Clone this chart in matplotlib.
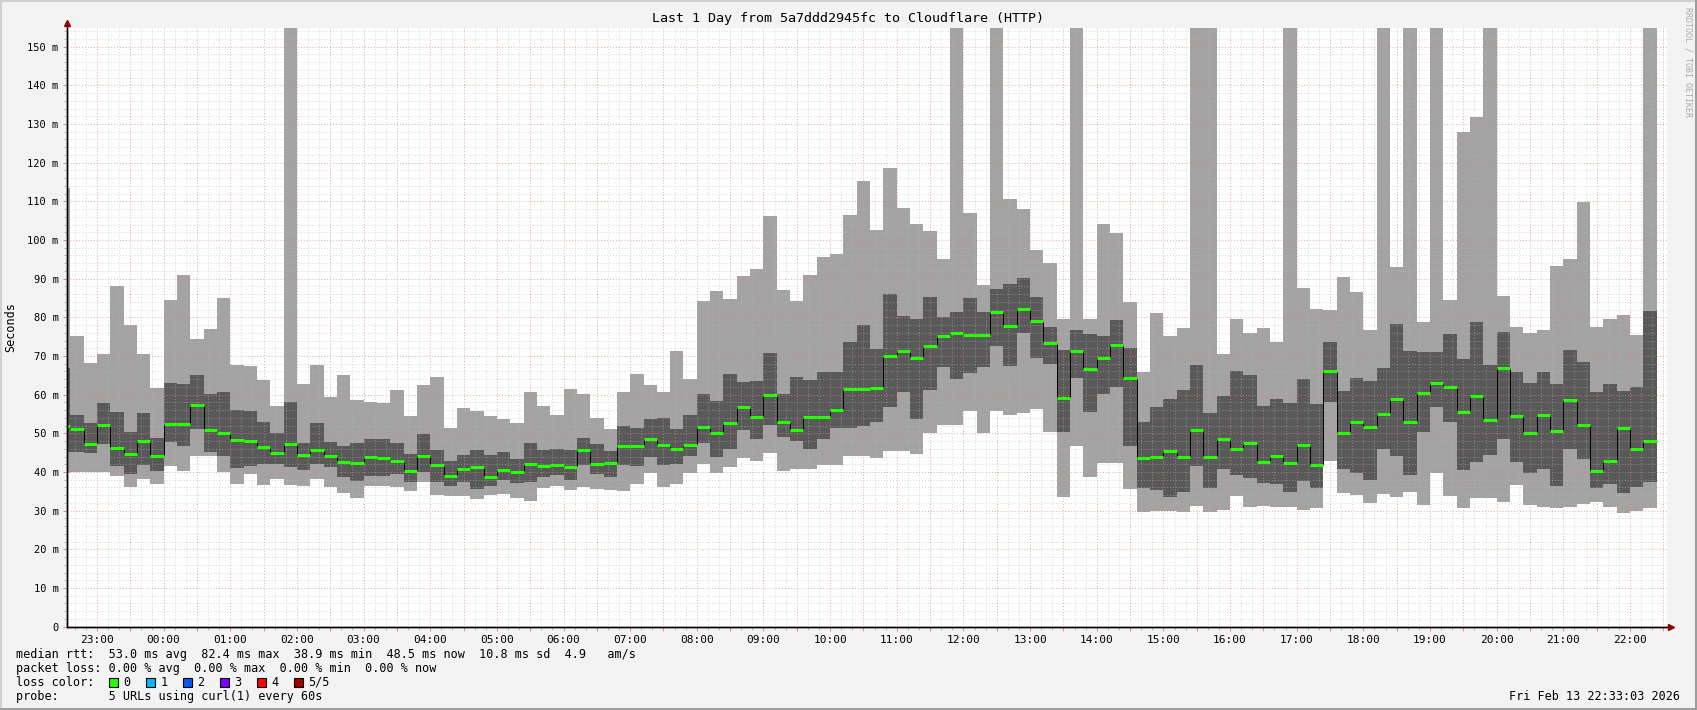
import numpy as np
import pandas as pd
import matplotlib
matplotlib.use("Agg")
import matplotlib.pyplot as plt
import matplotlib.dates as mdates
from matplotlib.patches import Rectangle
from matplotlib.ticker import MultipleLocator, FuncFormatter

# ====== data (ms), one value per 12 min bin, first bin starts 22:24 ======
first_bin = "2026-02-12 22:24"
bin_minutes = 12
t_start = "2026-02-12 22:33:03"
t_end = "2026-02-13 22:33:03"

rtt_max = [113.4, 75.1, 68.1, 70.6, 88.2, 77.9, 70.4, 61.7, 84.5, 91.0,
           74.5, 77.1, 85.1, 67.8, 67.3, 63.9, 57.0, 170, 62.7, 67.6,
           59.3, 65.2, 58.5, 58.1, 57.9, 61.1, 54.4, 62.4, 64.5, 51.4,
           56.6, 55.9, 54.5, 53.8, 52.7, 60.6, 57.1, 54.7, 61.5, 60.3,
           54.0, 51.1, 60.7, 65.3, 62.5, 60.7, 71.3, 64.0, 84.2, 86.8,
           84.7, 90.6, 92.5, 106.2, 87.1, 84.2, 90.9, 95.6, 96.4, 106.5,
           115.3, 102.6, 118.5, 108.3, 104.1, 102.3, 95.1, 170, 107.0, 88.4,
           170, 110.6, 108.0, 97.4, 94.0, 79.7, 170, 79.5, 104.1, 101.9,
           84.0, 65.9, 81.2, 75.2, 77.3, 170, 170, 70.5, 79.7, 76.0,
           77.2, 73.7, 170, 87.7, 82.2, 81.9, 90.4, 86.6, 76.7, 170,
           93.1, 170, 78.9, 170, 84.5, 127.8, 131.8, 170, 85.6, 77.6,
           76.0, 76.6, 93.4, 95.1, 109.8, 77.6, 79.7, 80.6, 75.4, 170]
rtt_p4 = [66.8, 54.7, 52.6, 57.8, 55.5, 50.4, 55.2, 48.8, 62.9, 62.7,
          65.2, 60.2, 60.6, 56.1, 55.8, 52.9, 50.2, 58.0, 47.5, 52.6,
          47.8, 46.6, 47.5, 48.5, 48.5, 47.5, 44.6, 49.8, 45.7, 42.9,
          44.4, 45.7, 44.4, 45.1, 43.4, 47.5, 45.7, 45.9, 45.7, 48.9,
          47.2, 45.4, 51.9, 51.5, 53.8, 54.0, 51.1, 54.7, 60.3, 58.4,
          65.3, 63.4, 63.5, 70.9, 60.2, 64.6, 63.8, 65.8, 65.8, 73.5,
          77.9, 71.7, 86.0, 80.4, 79.7, 85.3, 80.0, 81.5, 84.9, 81.5,
          87.2, 88.6, 90.3, 85.2, 77.4, 71.6, 76.7, 75.7, 75.2, 79.3,
          72.0, 52.9, 56.9, 59.0, 61.2, 67.7, 55.3, 59.7, 66.0, 65.0,
          57.2, 58.8, 57.9, 64.1, 57.6, 73.7, 61.0, 64.2, 63.5, 66.8,
          78.3, 71.3, 71.1, 71.1, 75.7, 69.3, 78.9, 67.7, 76.1, 65.9,
          63.1, 65.9, 62.8, 71.6, 68.4, 60.7, 62.8, 61.0, 61.9, 81.6]
rtt_median = [51.8, 51.2, 47.2, 52.2, 46.3, 44.7, 47.9, 44.2, 52.4, 52.4,
              57.3, 50.9, 50.1, 48.3, 48.1, 46.4, 44.9, 47.3, 44.5, 45.8,
              44.2, 42.7, 42.3, 43.9, 43.7, 42.9, 40.3, 44.2, 41.9, 39.1,
              40.7, 41.2, 38.6, 40.6, 40.1, 42.2, 41.6, 41.9, 41.2, 45.8,
              42.1, 42.4, 46.6, 46.6, 48.6, 47.1, 46.0, 47.1, 51.7, 50.1,
              52.7, 56.9, 54.1, 59.9, 52.9, 50.8, 54.3, 54.3, 56.0, 61.5,
              61.5, 61.6, 70.0, 71.4, 69.5, 72.6, 75.2, 76.0, 75.4, 75.4,
              81.4, 77.8, 82.2, 79.1, 73.4, 59.2, 71.4, 66.7, 69.6, 72.8,
              64.4, 43.7, 44.0, 45.5, 44.0, 50.9, 44.0, 48.5, 46.0, 47.6,
              42.7, 44.1, 42.4, 47.0, 41.8, 66.1, 50.2, 53.0, 51.7, 55.1,
              58.9, 53.0, 60.5, 63.1, 62.1, 55.6, 59.7, 53.4, 67.0, 54.5,
              50.2, 54.8, 50.7, 58.6, 52.2, 40.3, 42.9, 51.4, 46.0, 48.1]
rtt_p2 = [45.1, 45.3, 45.0, 47.2, 41.6, 39.4, 41.8, 40.3, 47.8, 46.8,
          51.1, 45.2, 44.2, 41.1, 41.6, 42.1, 42.1, 41.4, 40.6, 42.1,
          41.4, 38.8, 37.8, 39.1, 39.1, 39.4, 37.5, 39.9, 37.5, 36.5,
          37.3, 35.5, 36.5, 37.9, 37.2, 37.4, 38.8, 39.3, 37.9, 41.8,
          39.5, 38.8, 41.8, 41.6, 43.8, 41.8, 42.1, 44.1, 47.4, 44.0,
          45.9, 50.9, 48.6, 52.2, 49.1, 48.0, 45.9, 48.6, 51.5, 51.5,
          51.9, 53.0, 56.9, 60.8, 53.8, 61.2, 67.1, 64.1, 65.6, 67.2,
          72.6, 67.4, 76.0, 69.6, 67.9, 50.4, 64.4, 55.6, 60.2, 62.1,
          46.6, 35.9, 35.3, 33.6, 34.9, 41.6, 35.9, 40.8, 39.2, 38.5,
          37.2, 36.8, 34.9, 37.7, 35.8, 58.2, 40.9, 39.8, 37.9, 46.0,
          44.1, 39.2, 50.3, 56.9, 53.0, 40.5, 42.7, 44.4, 48.5, 42.7,
          39.7, 40.8, 36.5, 45.9, 43.4, 35.9, 36.9, 34.7, 36.2, 37.5]
rtt_min = [39.7, 39.9, 40.1, 39.9, 38.9, 36.0, 38.2, 36.9, 41.5, 40.3,
           44.2, 44.2, 39.9, 36.9, 39.4, 36.7, 38.2, 36.7, 36.5, 38.2,
           36.0, 34.6, 33.4, 36.5, 36.5, 36.0, 35.2, 37.3, 34.1, 33.9,
           33.9, 32.9, 34.0, 34.2, 33.2, 32.6, 35.9, 36.4, 35.3, 36.0,
           35.7, 35.3, 35.1, 36.9, 39.8, 36.2, 36.9, 39.7, 42.2, 39.8,
           41.4, 43.5, 42.9, 45.0, 40.3, 40.9, 40.9, 41.8, 41.7, 44.1,
           44.1, 43.7, 45.5, 45.5, 44.6, 50.0, 52.1, 52.1, 55.8, 50.0,
           55.8, 54.7, 55.2, 56.2, 50.4, 33.6, 46.7, 38.8, 42.4, 42.4,
           35.5, 29.7, 29.9, 29.9, 29.7, 31.2, 29.7, 30.2, 33.8, 31.0,
           31.2, 30.9, 30.9, 30.3, 30.6, 42.9, 34.7, 34.1, 31.9, 34.3,
           33.6, 34.9, 31.6, 39.8, 33.8, 30.6, 33.2, 33.4, 32.3, 36.6,
           31.5, 31.0, 30.6, 30.9, 31.7, 32.3, 31.0, 29.3, 30.0, 30.6]

title = "Last 1 Day from 5a7ddd2945fc to Cloudflare (HTTP)"
legend_lines = [
    "median rtt:  53.0 ms avg  82.4 ms max  38.9 ms min  48.5 ms now  10.8 ms sd  4.9   am/s",
    "packet loss: 0.00 % avg  0.00 % max  0.00 % min  0.00 % now",
    "loss color:",
    "probe:       5 URLs using curl(1) every 60s",
]
loss_labels = ["0", "1", "2", "3", "4", "5/5"]
loss_colors = ["#26ff00", "#00b8ff", "#0059ff", "#7e00ff", "#ff0000", "#a10000"]
stamp = "Fri Feb 13 22:33:03 2026"

# ====== figure ======
W, H = 1697, 710
plt.rcParams["font.family"] = ["DejaVu Sans Mono"]
fig = plt.figure(figsize=(W / 100, H / 100), dpi=100, facecolor="#f3f3f3")

def fx(px):
    return px / W

def fy(py):
    return 1 - py / H

ax = fig.add_axes([fx(67), fy(626.7), (1666.7 - 67) / W, (626.7 - 27.7) / H])
ax.set_facecolor("white")

n = len(rtt_median)
edges = pd.date_range(first_bin, periods=n + 1, freq=f"{bin_minutes}min")
xe = mdates.date2num(edges.to_pydatetime())

def ext(a):
    return np.append(a, a[-1])

ax.fill_between(xe, ext(rtt_min), ext(rtt_max), step="post",
                color="#a3a3a3", lw=0, zorder=1)
ax.fill_between(xe, ext(rtt_p2), ext(rtt_p4), step="post",
                color="#595959", lw=0, zorder=2)

med = np.array(rtt_median)
ax.vlines(xe[1:-1], med[:-1], med[1:], color="black", lw=0.7, zorder=4)
ax.hlines(med, xe[:-1], xe[1:], color=loss_colors[0], lw=2.2, zorder=5)

ax.set_xlim(mdates.date2num(pd.Timestamp(t_start)), mdates.date2num(pd.Timestamp(t_end)))
ax.set_ylim(0, (626.7 - 27.7) / 3.867)

# ====== grid / ticks ======
ax.xaxis.set_major_locator(mdates.MinuteLocator(byminute=[0, 30]))
ax.xaxis.set_minor_locator(mdates.MinuteLocator(byminute=range(0, 60, 10)))

def xlab(v, pos):
    d = mdates.num2date(v)
    return d.strftime("%H:%M") if d.minute == 0 else ""

ax.xaxis.set_major_formatter(FuncFormatter(xlab))
ax.yaxis.set_major_locator(MultipleLocator(10))
ax.yaxis.set_minor_locator(MultipleLocator(2))
ax.yaxis.set_major_formatter(FuncFormatter(lambda v, p: f"{int(round(v))} m" if v > 0 else "0"))

ax.set_axisbelow(False)
ax.grid(which="minor", color="#b8b8b8", ls=(0, (1, 2)), lw=0.7, alpha=0.55, zorder=6)
ax.grid(which="major", color="#f08080", ls=(0, (1, 2)), lw=0.7, alpha=0.7, zorder=6)

ax.tick_params(which="major", direction="out", length=3, width=0.7, color="#f08080",
               labelsize=8, pad=3)
ax.tick_params(which="minor", direction="out", length=2, width=0.7, color="#b8b8b8")
ax.tick_params(axis="y", labelsize=7.5)

for s in ["top", "right"]:
    ax.spines[s].set_visible(False)
for s in ["left", "bottom"]:
    ax.spines[s].set_color("black")
    ax.spines[s].set_linewidth(1)
    ax.spines[s].set_zorder(10)

# axis arrows
ax.plot([0, 0], [0, 1.008], color="black", lw=1, transform=ax.transAxes, clip_on=False, zorder=10)
ax.plot([0, 1.0025], [0, 0], color="black", lw=1, transform=ax.transAxes, clip_on=False, zorder=10)
ax.plot([0], [1.008], marker="^", ms=5, color="#8b0000", transform=ax.transAxes, clip_on=False, zorder=11)
ax.plot([1.0025], [0], marker=">", ms=5, color="#8b0000", transform=ax.transAxes, clip_on=False, zorder=11)

# ====== texts ======
fig.text(0.5, fy(18.4), title, ha="center", va="center", fontsize=9.6)
fig.text(fx(10.8), fy(327), "Seconds", rotation=90, ha="center", va="center", fontsize=8.5)
fig.text(fx(1688), fy(62), "RRDTOOL / TOBI OETIKER", rotation=270, ha="center", va="center",
         fontsize=6, color="#aaaaaa")

line_y = [654.3, 668.3, 682.3, 696.5]
for txt, yy in zip(legend_lines, line_y):
    fig.text(fx(16), fy(yy), txt, ha="left", va="center", fontsize=8.5)

for i, (lab, col) in enumerate(zip(loss_labels, loss_colors)):
    x0 = 108.5 + i * 37
    fig.patches.append(Rectangle((fx(x0), fy(686.6)), 9 / W, 9 / H, transform=fig.transFigure,
                                 facecolor=col, edgecolor="black", lw=0.8))
    fig.text(fx(x0 + 15), fy(682.3), lab, ha="left", va="center", fontsize=8.5)

fig.text(fx(1680), fy(696), stamp, ha="right", va="center", fontsize=8.5)

# frame
fig.add_artist(plt.Line2D([0, 1], [fy(1), fy(1)], transform=fig.transFigure, color="#cfcfcf", lw=1.5))
fig.add_artist(plt.Line2D([fx(1), fx(1)], [0, 1], transform=fig.transFigure, color="#cfcfcf", lw=1.5))
fig.add_artist(plt.Line2D([0, 1], [fy(708.5), fy(708.5)], transform=fig.transFigure, color="#9e9e9e", lw=2.2))
fig.add_artist(plt.Line2D([fx(1695.5), fx(1695.5)], [0, 1], transform=fig.transFigure, color="#9e9e9e", lw=2.2))

fig.savefig("out.png", dpi=100, facecolor=fig.get_facecolor())
